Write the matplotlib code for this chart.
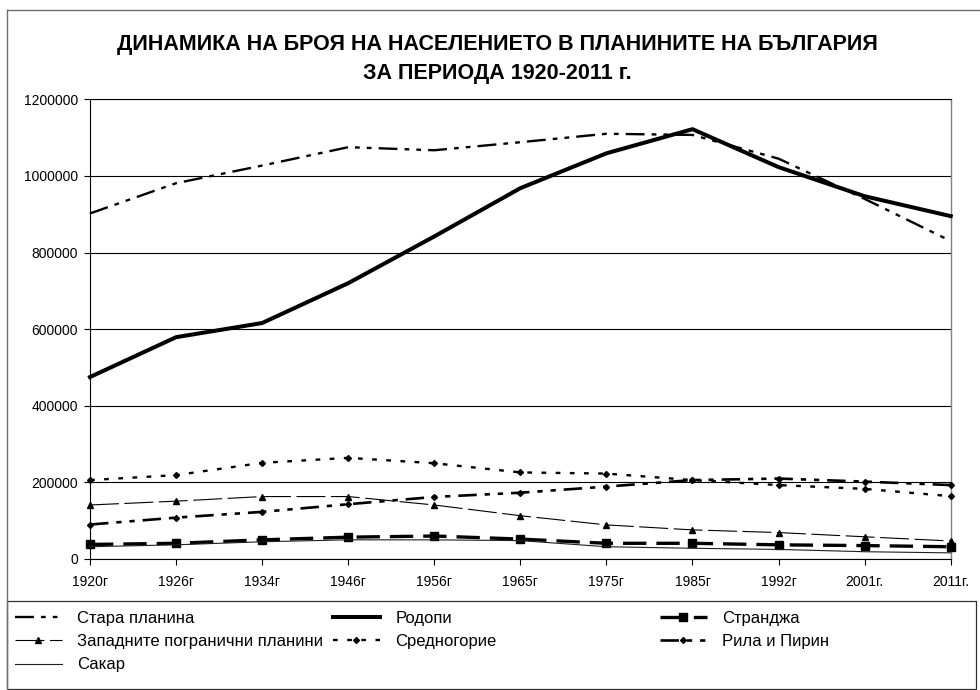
import matplotlib
matplotlib.use('Agg')
import matplotlib.pyplot as plt
from matplotlib.lines import Line2D
from matplotlib.patches import Rectangle

plt.rcParams['font.family'] = ['Liberation Sans', 'DejaVu Sans']

# ---- data ----
years = ['1920г', '1926г', '1934г', '1946г', '1956г', '1965г', '1975г',
         '1985г', '1992г', '2001г.', '2011г.']
stara_planina = [902000, 981000, 1027000, 1075000, 1067000, 1088000, 1110000,
                 1107000, 1045000, 940000, 830000]
rodopi = [475000, 579000, 616000, 720000, 842000, 968000, 1059000,
          1122000, 1023000, 947000, 895000]
strandzha = [38000, 41000, 50000, 57000, 60000, 52000, 41000,
             41000, 37000, 35000, 32000]
zapadni = [141000, 151000, 163000, 163000, 141000, 113000, 89000,
           76000, 69000, 58000, 47000]
srednogorie = [206000, 219000, 251000, 264000, 250000, 226000, 223000,
               206000, 193000, 183000, 164000]
rila_pirin = [90000, 108000, 123000, 143000, 162000, 173000, 189000,
              206000, 210000, 202000, 193000]
sakar = [32000, 37000, 45000, 50000, 50000, 48000, 32000,
         28000, 25000, 19000, 16000]
yticks = [0, 200000, 400000, 600000, 800000, 1000000, 1200000]

title1 = 'ДИНАМИКА НА БРОЯ НА НАСЕЛЕНИЕТО В ПЛАНИНИТЕ НА БЪЛГАРИЯ'
title2 = 'ЗА ПЕРИОДА 1920-2011 г.'

# ---- layout helpers (pixels -> figure fraction) ----
W, H = 980, 690
def fx(px):
    return px / W
def fy(py):
    return (H - py) / H

fig = plt.figure(figsize=(9.8, 6.9), dpi=100)
ax = fig.add_axes([fx(90), fy(559), fx(950.7) - fx(90), fy(99.3) - fy(559)])

x = list(range(len(years)))
k = 'black'

l_stara, = ax.plot(x, stara_planina, color=k, lw=1.7, dashes=(8, 3, 2, 3, 2, 3),
                   label='Стара планина', clip_on=False, zorder=3)
l_rod, = ax.plot(x, rodopi, color=k, lw=2.9, label='Родопи', clip_on=False, zorder=4)
l_str, = ax.plot(x, strandzha, color=k, lw=2.4, dashes=(7, 3), marker='s', ms=6,
                 label='Странджа', clip_on=False, zorder=3)
l_zap, = ax.plot(x, zapadni, color=k, lw=0.8, dashes=(26, 5), marker='^', ms=4,
                 label='Западните погранични планини', clip_on=False, zorder=3)
l_sred, = ax.plot(x, srednogorie, color=k, lw=1.7, dashes=(2, 4), marker='D', ms=3,
                  label='Средногорие', clip_on=False, zorder=3)
l_rila, = ax.plot(x, rila_pirin, color=k, lw=1.9, dashes=(7, 3, 2, 3, 2, 3), marker='D', ms=3,
                  label='Рила и Пирин', clip_on=False, zorder=3)
l_sak, = ax.plot(x, sakar, color='#202020', lw=0.8, label='Сакар', clip_on=False, zorder=3)

ax.set_xlim(0, len(years) - 1)
ax.set_ylim(0, 1200000)
ax.set_xticks(x)
ax.set_xticklabels(years, fontsize=10)
ax.set_yticks(yticks)
ax.set_yticklabels([str(v) for v in yticks], fontsize=10)
ax.grid(axis='y', color='black', lw=0.8)
ax.set_axisbelow(True)
ax.tick_params(axis='both', direction='out', length=4.5, width=0.8, color='black')
ax.tick_params(axis='y', pad=4)
ax.tick_params(axis='x', pad=7)
for s in ['left', 'bottom', 'top']:
    ax.spines[s].set_color('black')
    ax.spines[s].set_linewidth(0.8)
ax.spines['right'].set_color('#808080')
ax.spines['right'].set_linewidth(1.0)

# ---- title ----
fig.text(fx(497), fy(44.5), title1, ha='center', va='center', fontsize=15.5, fontweight='bold')
fig.text(fx(497), fy(74), title2, ha='center', va='center', fontsize=15.5, fontweight='bold')

# ---- chart border ----
fig.add_artist(Line2D([fx(7), fx(7)], [fy(10), 0], color='#707070', lw=1.0,
                      transform=fig.transFigure))
fig.add_artist(Line2D([fx(7), 1], [fy(10), fy(10)], color='#707070', lw=1.0,
                      transform=fig.transFigure))

# ---- legend ----
fig.add_artist(Rectangle((fx(7), fy(689)), fx(976) - fx(7), fy(601) - fy(689),
                         transform=fig.transFigure, fill=False, edgecolor='#303030', lw=0.9))
cols = [([l_stara, l_zap, l_sak], 15),
        ([l_rod, l_sred], 333),
        ([l_str, l_rila], 660)]
for handles, xpos in cols:
    leg = fig.legend(handles, [h.get_label() for h in handles], loc='upper left',
                     bbox_to_anchor=(fx(xpos), fy(610.5)), bbox_transform=fig.transFigure,
                     frameon=False, borderpad=0, borderaxespad=0, handlelength=2.8,
                     handletextpad=0.95, labelspacing=0.51, fontsize=12)

fig.savefig('out.png', dpi=100)
